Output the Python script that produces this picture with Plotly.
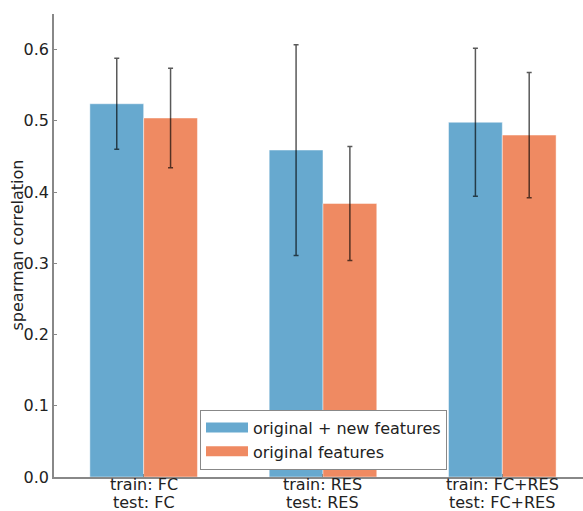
import plotly.graph_objects as go

train_labels = ["train: FC", "train: RES", "train: FC+RES"]
test_labels = ["test: FC", "test: RES", "test: FC+RES"]
series_names = ["original + new features", "original features"]
new_vals = [0.524, 0.459, 0.498]
new_err = [0.064, 0.148, 0.104]
orig_vals = [0.504, 0.384, 0.480]
orig_err = [0.070, 0.080, 0.088]
y_ticks = [0.0, 0.1, 0.2, 0.3, 0.4, 0.5, 0.6]

colors = ["#67a9cf", "#ef8a62"]
x = list(range(len(train_labels)))
font = "DejaVu Sans"

fig = go.Figure()
for vals, errs, color, off in [(new_vals, new_err, colors[0], -0.3), (orig_vals, orig_err, colors[1], 0.0)]:
    fig.add_trace(go.Bar(
        x=x, y=vals, width=0.3, offset=off,
        marker=dict(color=color, line=dict(color="rgba(255,255,255,0.45)", width=1)),
        error_y=dict(type="data", array=errs, color="rgba(0,0,0,0.65)", thickness=1.5, width=2.5),
        showlegend=False,
    ))
for name, color in zip(series_names, colors):
    fig.add_trace(go.Scatter(x=[None], y=[None], mode="lines", name=name,
                             line=dict(color=color, width=11.5)))

annotations = []
for xi, tr, te in zip(x, train_labels, test_labels):
    annotations.append(dict(x=xi, xref="x", y=0, yref="paper", yanchor="middle",
                            yshift=-7.5, text=tr, showarrow=False, font=dict(size=16)))
    annotations.append(dict(x=xi, xref="x", y=0, yref="paper", yanchor="middle",
                            yshift=-25, text=te, showarrow=False, font=dict(size=16)))
annotations.append(dict(x=0, xref="paper", y=0.5, yref="paper", xanchor="center", yanchor="middle",
                        xshift=-37, textangle=-90, text="spearman correlation",
                        showarrow=False, font=dict(size=16)))

fig.update_layout(
    width=583, height=511,
    margin=dict(l=54, r=0, t=14, b=34),
    paper_bgcolor="white", plot_bgcolor="white",
    font=dict(family=font, size=16, color="#222"),
    showlegend=True,
    legend=dict(x=0.276, y=0.016, xanchor="left", yanchor="bottom",
                bgcolor="white", bordercolor="#888", borderwidth=1,
                font=dict(size=16), tracegroupgap=0, itemwidth=42),
    xaxis=dict(range=[-0.5, 2.45], tickvals=x, showticklabels=False,
               showline=True, linecolor="#888", linewidth=1.5,
               ticks="inside", ticklen=3, tickcolor="#888",
               showgrid=False, zeroline=False, automargin=False),
    yaxis=dict(range=[0, 0.65], tickvals=y_ticks, tickformat=".1f",
               showline=True, linecolor="#888", linewidth=1.5,
               ticks="inside", ticklen=3, tickcolor="#888",
               showgrid=False, zeroline=False, automargin=False),
    annotations=annotations,
)
fig.write_html("out.html", config={"displayModeBar": False},
               post_script="document.body.style.margin='0';")
